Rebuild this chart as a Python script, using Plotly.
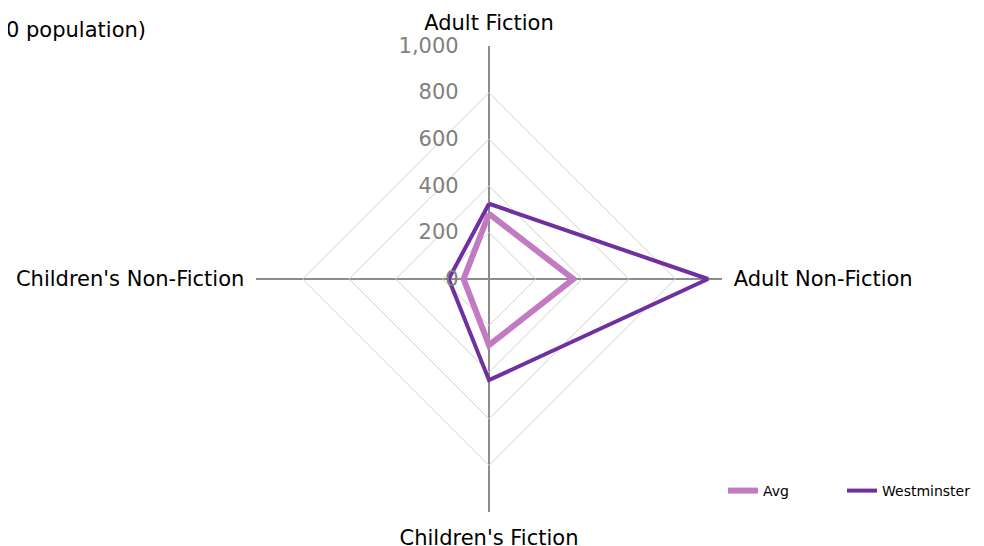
import plotly.graph_objects as go

categories = ["Adult Fiction", "Adult Non-Fiction", "Children's Fiction", "Children's Non-Fiction"]
avg_values = [280, 362, 284, 109]
westminster_values = [323, 940, 434, 173]
radial_ticks = [0, 200, 400, 600, 800, 1000]
radial_labels = ["0", "200", "400", "600", "800", "1,000"]

def closed(v):
    return list(v) + [v[0]]

pad = "\u00a0" * 4

fig = go.Figure()
fig.add_trace(go.Scatterpolar(
    r=closed(avg_values), theta=closed(categories), mode="lines", name="Avg",
    line=dict(color="#C27BC3", width=6), legend="legend"))
fig.add_trace(go.Scatterpolar(
    r=closed(westminster_values), theta=closed(categories), mode="lines", name="Westminster",
    line=dict(color="#7030A0", width=4), legend="legend2"))

cx, cy, R = 481, 271, 233
W, H = 984, 546
leg_y = 1 - 483 / H
fig.update_layout(
    width=W, height=H,
    margin=dict(l=0, r=0, t=0, b=0, autoexpand=False),
    paper_bgcolor="white", plot_bgcolor="white",
    font=dict(family="DejaVu Sans", color="black"),
    polar=dict(
        domain=dict(x=[(cx - R) / W, (cx + R) / W], y=[(H - cy - R) / H, (H - cy + R) / H]),
        gridshape="linear",
        bgcolor="white",
        radialaxis=dict(
            range=[0, 1000], tickvals=radial_ticks, ticktext=[t + pad for t in radial_labels],
            angle=90, tickangle=90, side="counterclockwise",
            tickfont=dict(size=21, color="#808080"),
            showline=False, gridcolor="#D0D0D0", gridwidth=1, ticks="",
        ),
        angularaxis=dict(
            categoryorder="array", categoryarray=categories,
            rotation=90, direction="clockwise",
            tickfont=dict(size=21, color="black"),
            gridcolor="#8C8C8C", gridwidth=2, showline=False,
            ticks="outside", ticklen=7, tickcolor="rgba(0,0,0,0)",
        ),
    ),
    legend=dict(orientation="h", x=715 / W, xanchor="left", y=leg_y, yanchor="middle",
                font=dict(size=14), bgcolor="rgba(0,0,0,0)"),
    legend2=dict(orientation="h", x=834 / W, xanchor="left", y=leg_y, yanchor="middle",
                 font=dict(size=14), bgcolor="rgba(0,0,0,0)"),
    showlegend=True,
)
fig.add_annotation(text="0 population)", x=-4 / W, xref="paper", xanchor="left",
                   y=1 - 22 / H, yref="paper", yanchor="middle", showarrow=False,
                   font=dict(size=21, color="black"))

fig.write_html("out.html")
